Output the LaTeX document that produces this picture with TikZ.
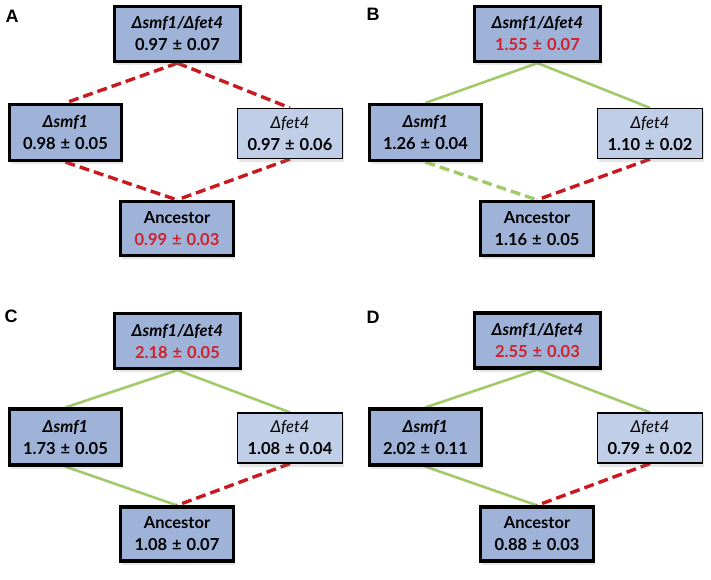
\documentclass[tikz,border=0pt]{standalone}
\usepackage{fontspec}
\setmainfont{Lato}
\newfontfamily\letterfont{Liberation Sans}
\usetikzlibrary{shadows}
\pgfdeclarelayer{background}
\pgfsetlayers{background,main}
\definecolor{boxblue}{HTML}{9FB3D9}
\definecolor{boxlight}{HTML}{C0CEE7}
\definecolor{valred}{HTML}{D0202A}
\definecolor{lred}{HTML}{C8191E}
\definecolor{lgreen}{HTML}{A2C96A}
\newcommand\pmsign{\hspace{0.3em}±\hspace{0.3em}}
\tikzset{
  x=1pt, y=-1pt,
  base/.style={align=center, inner sep=0pt, font=\fontsize{16.5}{22}\selectfont,
    drop shadow={opacity=0.2, shadow xshift=1.5pt, shadow yshift=-3.5pt}},
  topbox/.style={base, draw=black, line width=3.2pt, fill=boxblue, minimum width=126pt, minimum height=55pt},
  leftbox/.style={base, draw=black, line width=3.2pt, fill=boxblue, minimum width=112pt, minimum height=56pt},
  rightbox/.style={base, draw=black, line width=1.2pt, fill=boxlight, minimum width=105pt, minimum height=50pt},
  ancbox/.style={base, draw=black, line width=3.2pt, fill=boxblue, minimum width=113pt, minimum height=54pt},
  reddash/.style={draw=lred, line width=3.4pt, dash pattern=on 10pt off 5pt},
  greensolid/.style={draw=lgreen, line width=2.6pt},
  greendash/.style={draw=lgreen, line width=3.4pt, dash pattern=on 10pt off 5pt},
  panellabel/.style={font=\letterfont\bfseries\fontsize{18}{18}\selectfont, inner sep=0pt},
}
\begin{document}
\begin{tikzpicture}
\useasboundingbox (0,0) rectangle (711,580);
% ---------- Panel A ----------
\begin{scope}[shift={(0,0)}]
\node[panellabel] (la) at (12,16) {A};
\node[topbox] (at) at (177.5,34) {\textbf{\textit{Δsmf1/Δfet4}}\\\textbf{0.97\pmsign0.07}};
\node[leftbox] (al) at (65.5,132.5) {\textbf{\textit{Δsmf1}}\\\textbf{0.98\pmsign0.05}};
\node[rightbox] (ar) at (290,133.5) {\textit{Δfet4}\\\textbf{0.97\pmsign0.06}};
\node[ancbox] (aa) at (177,228.5) {\textbf{Ancestor}\\\textbf{\textcolor{valred}{0.99\pmsign0.03}}};
\begin{pgfonlayer}{background}
\draw[reddash] (at.south) -- (al.north);
\draw[reddash] (at.south) -- (ar.north);
\draw[reddash] (al.south) -- (aa.north);
\draw[reddash] (ar.south) -- (aa.north);
\end{pgfonlayer}
\end{scope}
% ---------- Panel B ----------
\begin{scope}[shift={(360,0)}]
\node[panellabel] (lb) at (13,14) {B};
\node[topbox] (bt) at (177.5,34) {\textbf{\textit{Δsmf1/Δfet4}}\\\textbf{\textcolor{valred}{1.55\pmsign0.07}}};
\node[leftbox] (bl) at (65.5,132.5) {\textbf{\textit{Δsmf1}}\\\textbf{1.26\pmsign0.04}};
\node[rightbox] (br) at (290,133.5) {\textit{Δfet4}\\\textbf{1.10\pmsign0.02}};
\node[ancbox] (ba) at (177,228.5) {\textbf{Ancestor}\\\textbf{1.16\pmsign0.05}};
\begin{pgfonlayer}{background}
\draw[greensolid] (bt.south) -- (bl.north);
\draw[greensolid] (bt.south) -- (br.north);
\draw[greendash] (bl.south) -- (ba.north);
\draw[reddash] (br.south) -- (ba.north);
\end{pgfonlayer}
\end{scope}
% ---------- Panel C ----------
\begin{scope}[shift={(0,307)}]
\node[panellabel] (lc) at (11,9) {C};
\node[topbox] (ct) at (177.5,34) {\textbf{\textit{Δsmf1/Δfet4}}\\\textbf{\textcolor{valred}{2.18\pmsign0.05}}};
\node[leftbox] (cl) at (65.5,130) {\textbf{\textit{Δsmf1}}\\\textbf{1.73\pmsign0.05}};
\node[rightbox] (cr) at (290,131) {\textit{Δfet4}\\\textbf{1.08\pmsign0.04}};
\node[ancbox] (ca) at (177,227) {\textbf{Ancestor}\\\textbf{1.08\pmsign0.07}};
\begin{pgfonlayer}{background}
\draw[greensolid] (ct.south) -- (cl.north);
\draw[greensolid] (ct.south) -- (cr.north);
\draw[greensolid] (cl.south) -- (ca.north);
\draw[reddash] (cr.south) -- (ca.north);
\end{pgfonlayer}
\end{scope}
% ---------- Panel D ----------
\begin{scope}[shift={(360,307)}]
\node[panellabel] (ld) at (13,10) {D};
\node[topbox] (dt) at (177.5,33.5) {\textbf{\textit{Δsmf1/Δfet4}}\\\textbf{\textcolor{valred}{2.55\pmsign0.03}}};
\node[leftbox] (dl) at (65.5,130) {\textbf{\textit{Δsmf1}}\\\textbf{2.02\pmsign0.11}};
\node[rightbox] (dr) at (290,131) {\textit{Δfet4}\\\textbf{0.79\pmsign0.02}};
\node[ancbox] (da) at (177,227) {\textbf{Ancestor}\\\textbf{0.88\pmsign0.03}};
\begin{pgfonlayer}{background}
\draw[greensolid] (dt.south) -- (dl.north);
\draw[greensolid] (dt.south) -- (dr.north);
\draw[greensolid] (dl.south) -- (da.north);
\draw[reddash] (dr.south) -- (da.north);
\end{pgfonlayer}
\end{scope}
\end{tikzpicture}
\end{document}
